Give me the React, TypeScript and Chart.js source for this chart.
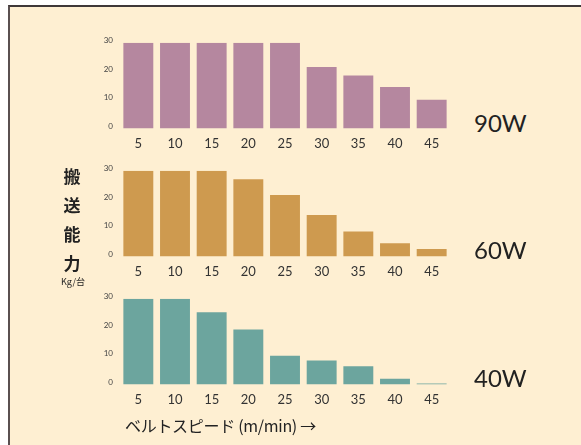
import React, { useEffect, useRef } from "react";
import { Chart, registerables } from "chart.js";

Chart.register(...registerables);

const speeds = ["5", "10", "15", "20", "25", "30", "35", "40", "45"];
const yTicks = [0, 10, 20, 30];
const capacity90W = [30, 30, 30, 30, 30, 21.5, 18.5, 14.5, 10];
const capacity60W = [30, 30, 30, 27, 21.5, 14.5, 8.7, 4.6, 2.6];
const capacity40W = [30, 30, 25.3, 19.2, 10, 8.4, 6.4, 2, 0.3];
const motorLabels = ["90W", "60W", "40W"];
const barColors = ["#B5879F", "#CE9A4F", "#6CA59E"];
const yTitleChars = ["搬", "送", "能", "力"];
const yUnit = "Kg/台";
const xTitle = "ベルトスピード (m/min) →";

const LATIN = "Lato, 'DejaVu Sans', sans-serif";
const CJK = "'Noto Sans CJK JP', 'Noto Sans', sans-serif";

function BarPanel(props: { data: number[]; color: string; top: number }) {
  const ref = useRef<HTMLCanvasElement | null>(null);
  useEffect(() => {
    if (!ref.current) return;
    const chart = new Chart(ref.current, {
      type: "bar",
      data: {
        labels: speeds,
        datasets: [
          {
            data: props.data,
            backgroundColor: props.color,
            barPercentage: 0.816,
            categoryPercentage: 1,
          },
        ],
      },
      options: {
        responsive: false,
        animation: false,
        events: [],
        layout: { padding: { top: 8, right: 5, left: 0, bottom: 0 } },
        plugins: { legend: { display: false }, tooltip: { enabled: false } },
        scales: {
          x: {
            grid: { display: false, drawTicks: false },
            border: { display: false },
            ticks: { padding: 8, color: "#333", font: { family: LATIN, size: 13 } },
          },
          y: {
            min: 0,
            max: 30,
            afterBuildTicks: (axis: any) => {
              axis.ticks = yTicks.map((v) => ({ value: v }));
            },
            afterFit: (s: any) => {
              s.width = 25;
            },
            grid: { display: false, drawTicks: false },
            border: { display: false },
            ticks: {
              padding: 7,
              color: "#444",
              labelOffset: -2,
              font: { family: LATIN, size: 8 },
            },
          },
        },
      },
    });
    return () => chart.destroy();
  }, []);
  return (
    <canvas
      ref={ref}
      width={360}
      height={129}
      style={{ position: "absolute", left: 95, top: props.top, width: 360, height: 129 }}
    />
  );
}

export default function App() {
  const panels = [
    { data: capacity90W, top: 31, labelTop: 111 },
    { data: capacity60W, top: 159, labelTop: 238 },
    { data: capacity40W, top: 287, labelTop: 366 },
  ];
  return (
    <div style={{ position: "fixed", left: 0, top: 0, width: 581, height: 445, background: "#fff", overflow: "hidden" }}>
      <div
        style={{
          position: "absolute",
          left: 8,
          top: 5,
          width: 573,
          height: 440,
          background: "#FEEFD2",
          borderLeft: "2px solid #5a5050",
          borderTop: "2px solid #3f3838",
          boxSizing: "border-box",
        }}
      />
      {panels.map((p, i) => (
        <React.Fragment key={i}>
          <BarPanel data={p.data} color={barColors[i]} top={p.top} />
          <div
            style={{
              position: "absolute",
              left: 474,
              top: p.labelTop,
              fontFamily: LATIN,
              fontWeight: 400,
              fontSize: 24,
              lineHeight: "24px",
              color: "#222",
            }}
          >
            {motorLabels[i]}
          </div>
        </React.Fragment>
      ))}
      <div style={{ position: "absolute", left: 57, top: 161, width: 30, display: "flex", flexDirection: "column", alignItems: "center" }}>
        {yTitleChars.map((c, i) => (
          <div key={i} style={{ fontFamily: CJK, fontWeight: 700, fontSize: 17, lineHeight: "29px", color: "#222" }}>
            {c}
          </div>
        ))}
      </div>
      <div style={{ position: "absolute", left: 52, top: 276, width: 42, textAlign: "center", fontFamily: CJK, fontSize: 9, lineHeight: "12px", color: "#222" }}>
        {yUnit}
      </div>
      <div style={{ position: "absolute", left: 125, top: 415, fontFamily: CJK, fontSize: 16, lineHeight: "20px", color: "#222", whiteSpace: "nowrap", letterSpacing: "-0.3px" }}>
        {xTitle}
      </div>
    </div>
  );
}
